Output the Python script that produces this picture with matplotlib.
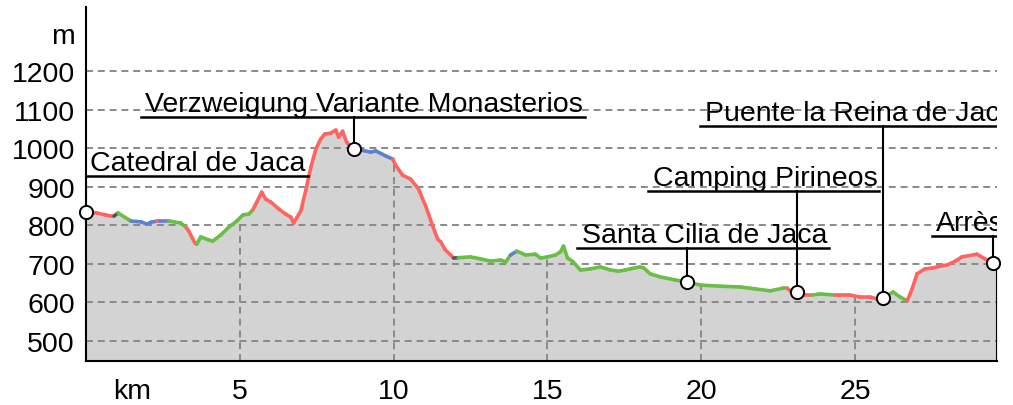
import matplotlib
matplotlib.use("Agg")
import matplotlib.pyplot as plt
from matplotlib.collections import LineCollection
from matplotlib.patches import Polygon

plt.rcParams["font.family"] = ["Liberation Sans", "DejaVu Sans"]
plt.rcParams["lines.scale_dashes"] = False

# ---- elevation profile (km, m) and surface class of the segment starting at each point ----
km = [0.00, 0.36, 0.62, 0.81, 0.91, 1.04, 1.40, 1.46, 1.79, 1.98, 2.11, 2.31, 2.40, 2.69,
      3.08, 3.25, 3.34, 3.54, 3.60, 3.73, 3.99, 4.12, 4.38, 4.64, 4.90, 5.10, 5.29, 5.42,
      5.55, 5.71, 5.84, 6.01, 6.27, 6.49, 6.66, 6.75, 6.98, 7.14, 7.31, 7.47, 7.63, 7.76,
      7.95, 8.12, 8.21, 8.34, 8.47, 8.60, 8.70, 8.93, 9.25, 9.42, 9.74, 9.97, 10.06, 10.29,
      10.55, 10.81, 11.04, 11.27, 11.43, 11.53, 11.66, 11.85, 11.95, 12.10, 12.50, 12.82,
      13.15, 13.47, 13.64, 13.80, 14.00, 14.29, 14.61, 14.77, 15.00, 15.26, 15.42, 15.52,
      15.65, 15.81, 16.07, 16.40, 16.72, 17.05, 17.31, 17.53, 17.69, 18.00, 18.12, 18.34,
      18.67, 19.16, 19.55, 19.97, 20.62, 21.27, 21.75, 22.24, 22.66, 22.79, 22.89, 23.12,
      23.38, 23.60, 23.86, 24.35, 24.51, 24.84, 25.16, 25.49, 25.71, 25.91, 26.23, 26.46,
      26.69, 26.85, 27.01, 27.27, 27.50, 27.76, 27.99, 28.25, 28.47, 28.96, 29.06, 29.22,
      29.48, 29.61]
elev = [834, 832, 827, 824, 824, 832, 814, 811, 809, 803, 808, 811, 811, 811,
        806, 795, 785, 754, 751, 770, 762, 759, 775, 795, 811, 827, 829, 840,
        860, 886, 868, 860, 842, 829, 821, 806, 837, 889, 951, 998, 1024, 1037,
        1039, 1047, 1029, 1044, 1016, 1003, 998, 995, 990, 993, 980, 972, 956, 930,
        920, 894, 850, 798, 764, 757, 738, 723, 715, 716, 718, 713,
        707, 710, 705, 723, 733, 723, 725, 715, 718, 723, 731, 746,
        715, 707, 684, 687, 692, 684, 681, 684, 687, 692, 690, 674,
        666, 658, 653, 645, 642, 640, 635, 630, 637, 637, 630, 627,
        619, 619, 622, 619, 619, 619, 614, 614, 609, 611, 627, 614,
        604, 635, 674, 687, 689, 694, 697, 707, 718, 725, 720, 713,
        702, 697]
surface = ["r", "r", "r", "r", "k", "g", "g", "b", "b", "b", "b", "r", "b", "g",
           "g", "r", "r", "r", "g", "g", "g", "g", "g", "g", "g", "g", "g", "r",
           "r", "r", "r", "r", "r", "r", "r", "r", "r", "r", "r", "r", "r", "r",
           "r", "r", "r", "r", "r", "r", "b", "b", "b", "b", "b", "r", "r", "r",
           "r", "r", "r", "r", "r", "r", "r", "r", "k", "g", "g", "g",
           "g", "g", "g", "b", "g", "g", "g", "g", "g", "g", "g", "g",
           "g", "g", "g", "g", "g", "g", "g", "g", "g", "g", "g", "g",
           "g", "g", "g", "g", "g", "g", "g", "g", "g", "r", "r", "r",
           "r", "g", "g", "r", "r", "r", "r", "r", "r", "g", "g", "g",
           "r", "r", "r", "r", "r", "r", "r", "r", "r", "r", "r", "r",
           "r", "r"]
surface_colors = {"r": "#ff6461", "g": "#69bf45", "b": "#5a82d0", "k": "#555555"}

# ---- points of interest ----
poi_names = ["Catedral de Jaca", "Verzweigung Variante Monasterios", "Santa Cilia de Jaca",
             "Camping Pirineos", "Puente la Reina de Jaca", "Arrès"]
poi_km = [0.00, 8.70, 19.55, 23.12, 25.91, 29.48]
poi_elev = [834, 998, 653, 627, 611, 702]
label_km = [0.00, 1.79, 15.97, 18.28, 19.97, 27.50]
label_elev = [928, 1081, 741, 889, 1057, 772]

x_ticks = [1.5, 5, 10, 15, 20, 25]
x_labels = ["km", "5", "10", "15", "20", "25"]
y_ticks = [500, 600, 700, 800, 900, 1000, 1100, 1200, 1300]
y_labels = ["500", "600", "700", "800", "900", "1000", "1100", "1200", "m"]
grid_elev = [500, 600, 700, 800, 900, 1000, 1100, 1200]
grid_km = [5, 10, 15, 20, 25]

y_min, y_max = 448, 1366
fs = 20.5

fig = plt.figure(figsize=(10.13, 4.06), dpi=100)
ax = fig.add_axes([0.0849, 0.1084, 0.8993, 0.8716])
ax.set_xlim(0, km[-1])
ax.set_ylim(y_min, y_max)

# filled terrain
ax.fill_between(km, elev, y_min, color="#d3d3d3", lw=0, zorder=1)
terrain = Polygon(list(zip(km, elev)) + [(km[-1], y_min), (km[0], y_min)],
                  closed=True, transform=ax.transData)

# grid: horizontal across, vertical only inside the terrain
ax.hlines(grid_elev, 0, km[-1], colors="#8a8a8a", lw=1.4,
          linestyles=(0, (5, 3.5)), zorder=2)
vg = ax.vlines(grid_km, y_min, y_max, colors="#8a8a8a", lw=1.4,
               linestyles=(0, (5, 3.5)), zorder=2)
vg.set_clip_path(terrain)

# coloured profile line
segs = [[(km[i], elev[i]), (km[i + 1], elev[i + 1])] for i in range(len(km) - 1)]
cols = [surface_colors[s] for s in surface[:len(segs)]]
ax.add_collection(LineCollection(segs, colors=cols, lw=2.6, capstyle="round", zorder=3))

# right edge of the profile
ax.vlines(km[-1], y_min, elev[-1], colors="black", lw=1.5, zorder=4)

# leaders, markers and labels
texts = []
for name, pk, pe, lk, le in zip(poi_names, poi_km, poi_elev, label_km, label_elev):
    ax.plot([pk, pk], [pe, le], color="black", lw=1.5, zorder=4)
    t = ax.annotate(name, xy=(lk, le), xytext=(3, 0), textcoords="offset points",
                    ha="left", va="bottom", fontsize=fs, color="black",
                    annotation_clip=False, clip_on=True, zorder=6)
    texts.append(t)

fig.canvas.draw()
renderer = fig.canvas.get_renderer()
inv = ax.transData.inverted()
for t, pk, lk, le in zip(texts, poi_km, label_km, label_elev):
    bb = t.get_window_extent(renderer)
    x_end = inv.transform((bb.x1 + 2, 0))[0]
    ax.plot([min(lk, pk), max(x_end, pk)], [le, le], color="black", lw=1.8, zorder=5)

ax.plot(poi_km, poi_elev, "o", ms=9.5, mfc="white", mec="black", mew=1.4,
        ls="none", clip_on=False, zorder=7)

ax.set_xticks(x_ticks)
ax.set_xticklabels(x_labels)
ax.set_yticks(y_ticks)
ax.set_yticklabels(y_labels)
ax.tick_params(length=0, labelsize=fs)
ax.tick_params(axis="x", pad=12)
ax.tick_params(axis="y", pad=8)

for side in ("top", "right"):
    ax.spines[side].set_visible(False)
for side in ("left", "bottom"):
    ax.spines[side].set_linewidth(1.5)

fig.savefig("out.png", dpi=100)
